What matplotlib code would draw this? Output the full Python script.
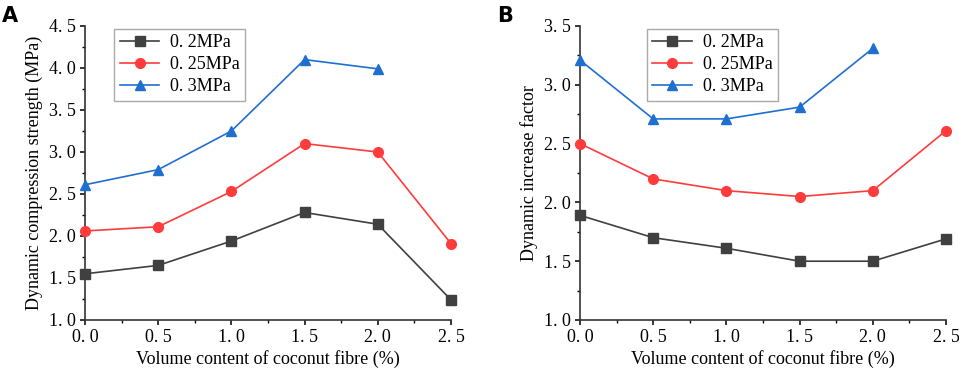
import numpy as np
import matplotlib.pyplot as plt
from matplotlib.ticker import MultipleLocator, FuncFormatter

# data
fibre = [0.0, 0.5, 1.0, 1.5, 2.0, 2.5]
series_labels = ["0. 2MPa", "0. 25MPa", "0. 3MPa"]

dcs_02 = [1.55, 1.65, 1.94, 2.28, 2.14, 1.24]
dcs_025 = [2.06, 2.11, 2.53, 3.10, 3.00, 1.91]
dcs_03 = [2.61, 2.79, 3.25, 4.10, 3.99]

dif_02 = [1.89, 1.70, 1.61, 1.50, 1.50, 1.69]
dif_025 = [2.50, 2.20, 2.10, 2.05, 2.10, 2.61]
dif_03 = [3.21, 2.71, 2.71, 2.81, 3.31]

colors = ["#404040", "#ff3b3b", "#1f6fd1"]
markers = ["s", "o", "^"]
msizes = [6.5, 7, 7.5]

plt.rcParams["font.family"] = ["Liberation Serif", "DejaVu Serif"]

fig = plt.figure(figsize=(9.59, 3.74), dpi=100)


def fmt(v, pos):
    s = "%.1f" % v
    return s.replace(".", ". ")


def draw(ax, data, ylim, ylabel, legx):
    for vals, lab, c, m, ms in zip(data, series_labels, colors, markers, msizes):
        ax.plot(fibre[:len(vals)], vals, color=c, marker=m, markersize=ms,
                linewidth=1.2, label=lab, clip_on=False, zorder=3)
    ax.set_xlim(0, 2.5)
    ax.set_ylim(*ylim)
    ax.xaxis.set_major_locator(MultipleLocator(0.5))
    ax.xaxis.set_minor_locator(MultipleLocator(0.25))
    ax.yaxis.set_major_locator(MultipleLocator(0.5))
    ax.yaxis.set_minor_locator(MultipleLocator(0.25))
    ax.xaxis.set_major_formatter(FuncFormatter(fmt))
    ax.yaxis.set_major_formatter(FuncFormatter(fmt))
    ax.spines["top"].set_visible(False)
    ax.spines["right"].set_visible(False)
    for sp in ["left", "bottom"]:
        ax.spines[sp].set_linewidth(1.2)
        ax.spines[sp].set_color("#333333")
    ax.tick_params(which="major", direction="out", length=3.5, width=1.1,
                   labelsize=13, pad=3)
    ax.tick_params(which="minor", direction="out", length=2.5, width=1.0)
    ax.set_xlabel("Volume content of coconut fibre (%)", fontsize=13, labelpad=3)
    ax.set_ylabel(ylabel, fontsize=13, labelpad=4)
    leg = ax.legend(loc="upper left", bbox_to_anchor=(legx, 0.99), fontsize=13,
                    fancybox=False, edgecolor="#aaaaaa", framealpha=1,
                    borderaxespad=0, handlelength=2.2, handletextpad=0.6,
                    borderpad=0.3, labelspacing=0.28)
    leg.get_frame().set_linewidth(1.0)


axA = fig.add_axes([85 / 959, 54 / 374, 366 / 959, 294 / 374])
draw(axA, [dcs_02, dcs_025, dcs_03], (1.0, 4.5),
     "Dynamic compression strength (MPa)", 0.08)

axB = fig.add_axes([580 / 959, 54 / 374, 366 / 959, 294 / 374])
draw(axB, [dif_02, dif_025, dif_03], (1.0, 3.5),
     "Dynamic increase factor", 0.183)

fig.text(2 / 959, 1 - 16 / 374, "A", fontsize=15, fontweight="bold",
         family="DejaVu Sans", va="center")
fig.text(497 / 959, 1 - 16 / 374, "B", fontsize=15, fontweight="bold",
         family="DejaVu Sans", va="center")

fig.savefig("out.png", dpi=100)
